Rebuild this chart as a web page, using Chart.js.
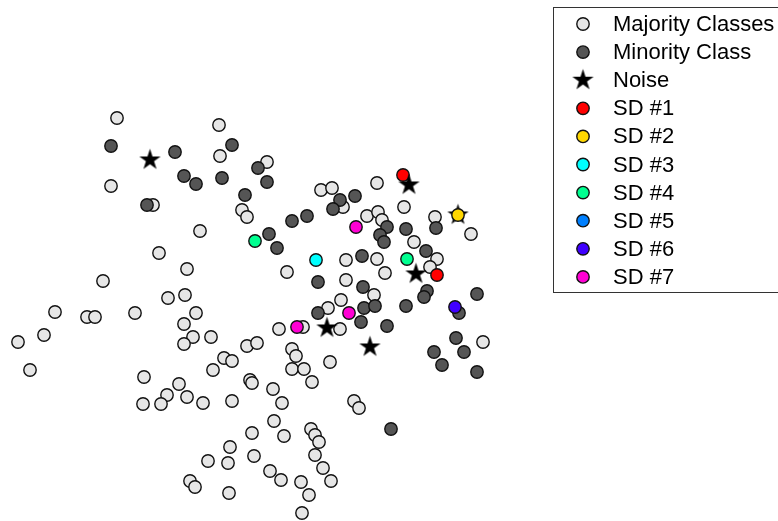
<!DOCTYPE html>
<html>
<head>
<meta charset="utf-8">
<script src="https://cdn.jsdelivr.net/npm/chart.js@4/dist/chart.umd.min.js"></script>
<style>
  html, body { margin: 0; padding: 0; background: #fff; overflow: hidden; }
  canvas { display: block; }
</style>
</head>
<body>
<canvas id="c" width="778" height="521"></canvas>
<script>
// Series labels, in legend order
const seriesNames = ['Majority Classes', 'Minority Class', 'Noise',
  'SD #1', 'SD #2', 'SD #3', 'SD #4', 'SD #5', 'SD #6', 'SD #7'];

// 2-D projected sample positions [x, y]
const majority = [
  [117,118],[219,125],[220,156],[267,162],[111,186],[153,205],[242,210],[247,217],
  [200,231],[159,253],[187,269],[103,281],[168,298],[185,295],[196,313],[184,324],
  [193,337],[184,344],[211,337],[247,346],[257,343],[55,312],[87,317],[95,317],
  [135,313],[44,335],[18,342],[30,370],[224,358],[232,361],[213,370],[144,377],
  [179,384],[250,380],[252,383],[167,395],[143,404],[161,404],[187,397],[203,403],
  [232,401],[273,389],[282,403],[292,349],[296,356],[292,369],[304,369],[312,382],
  [330,362],[279,329],[303,327],[328,308],[340,329],[287,272],[321,190],[332,188],
  [343,207],[377,183],[404,207],[367,216],[378,212],[382,220],[435,217],[471,234],
  [414,242],[437,259],[346,260],[377,259],[385,273],[430,267],[346,280],[374,295],
  [341,300],[483,342],[354,401],[359,408],[274,421],[252,433],[284,436],[311,429],
  [315,435],[319,442],[230,447],[254,456],[208,461],[228,463],[315,455],[323,468],
  [270,471],[281,480],[301,482],[331,481],[190,481],[195,487],[229,493],[309,495],
  [302,513]
];
const minority = [
  [111,146],[175,152],[232,145],[184,176],[196,184],[222,178],[258,168],[267,182],
  [147,205],[245,195],[292,221],[307,216],[269,234],[277,248],[318,282],[340,200],
  [333,209],[355,196],[387,227],[380,235],[384,242],[406,229],[436,228],[426,251],
  [362,256],[363,287],[427,291],[424,297],[477,294],[406,306],[364,308],[375,306],
  [318,313],[459,313],[361,322],[387,326],[456,338],[434,352],[464,352],[442,365],
  [477,372],[391,429]
];
const noise = [[150,160],[409,185],[458,215],[416,274],[327,328],[370,347]];
const sd1 = [[403,175],[437,275]];
const sd2 = [[458,215]];
const sd3 = [[316,260]];
const sd4 = [[255,241],[407,259]];
const sd5 = [];
const sd6 = [[455,307]];
const sd7 = [[356,227],[297,327],[349,313]];

const seriesPoints = [majority, minority, noise, sd1, sd2, sd3, sd4, sd5, sd6, sd7];
const seriesColors = ['#e6e6e6', '#555555', '#000000', '#ff0000', '#ffd700',
  '#00ffff', '#00ff90', '#0080ff', '#4000ff', '#ff00d4'];
// drawing order: lower value is painted on top
const seriesOrder = [10, 9, 7, 8, 6, 6, 6, 6, 6, 6];

// filled five-point star used for the noise samples
function makeStar(R) {
  const size = Math.ceil(R * 2 + 2);
  const cv = document.createElement('canvas');
  cv.width = size; cv.height = size;
  const g = cv.getContext('2d');
  const cx = size / 2, cy = size / 2, r = R * 0.382;
  g.beginPath();
  for (let i = 0; i < 10; i++) {
    const rad = i % 2 === 0 ? R : r;
    const a = -Math.PI / 2 + i * Math.PI / 5;
    const px = cx + rad * Math.cos(a), py = cy + rad * Math.sin(a);
    if (i === 0) g.moveTo(px, py); else g.lineTo(px, py);
  }
  g.closePath();
  g.fillStyle = '#000';
  g.fill();
  return cv;
}
const starImg = makeStar(11.2);

const datasets = seriesNames.map((name, i) => ({
  label: name,
  data: seriesPoints[i].map(p => ({ x: p[0], y: p[1] })),
  pointStyle: i === 2 ? starImg : 'circle',
  pointRadius: 6.2,
  pointHoverRadius: 6.2,
  backgroundColor: seriesColors[i],
  borderColor: '#111111',
  borderWidth: 1.4,
  order: seriesOrder[i],
  clip: false
}));

// boxed legend at the top right, running off the right edge
const boxLegend = {
  id: 'boxLegend',
  afterDraw(chart) {
    const ctx = chart.ctx;
    const left = 553.5, top = 7.5, w = 260, h = 285;
    ctx.save();
    ctx.fillStyle = '#ffffff';
    ctx.fillRect(left, top, w, h);
    ctx.strokeStyle = '#333333';
    ctx.lineWidth = 1;
    ctx.strokeRect(left, top, w, h);
    const markerX = 583, textX = 613, firstY = 24, step = 28.1;
    ctx.font = '22px "Liberation Sans", Arial, sans-serif';
    ctx.textBaseline = 'middle';
    ctx.textAlign = 'left';
    seriesNames.forEach((name, i) => {
      const y = firstY + i * step;
      if (i === 2) {
        ctx.drawImage(starImg, markerX - starImg.width / 2, y - starImg.height / 2);
      } else {
        ctx.beginPath();
        ctx.arc(markerX, y, 6.2, 0, Math.PI * 2);
        ctx.fillStyle = seriesColors[i];
        ctx.fill();
        ctx.lineWidth = 1.4;
        ctx.strokeStyle = '#111111';
        ctx.stroke();
      }
      ctx.fillStyle = '#000000';
      ctx.fillText(name, textX, y + 1);
    });
    ctx.restore();
  }
};

new Chart(document.getElementById('c'), {
  type: 'scatter',
  data: { datasets },
  options: {
    responsive: false,
    animation: false,
    devicePixelRatio: 1,
    layout: { padding: 0, autoPadding: false },
    scales: {
      x: { type: 'linear', display: false, min: 0, max: 778 },
      y: { type: 'linear', display: false, min: 0, max: 521, reverse: true }
    },
    plugins: { legend: { display: false }, tooltip: { enabled: false } }
  },
  plugins: [boxLegend]
});
</script>
</body>
</html>
